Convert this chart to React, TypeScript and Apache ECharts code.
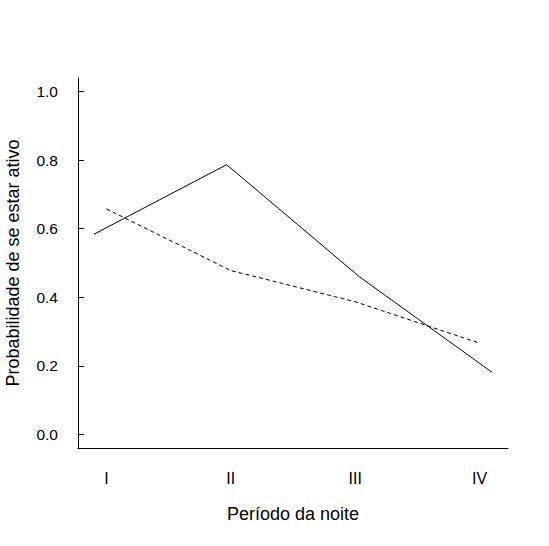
import React, { useEffect, useRef } from "react";
import * as echarts from "echarts";

const periods = ["I", "II", "III", "IV"];
const solidValues = [0.584, 0.787, 0.46, 0.181];
const dashedValues = [0.658, 0.478, 0.387, 0.266];
const yTicks = [0, 0.2, 0.4, 0.6, 0.8, 1.0];

// the solid series is drawn spread slightly (dodged) around the category centres
const solidSpread = 3.2 / 3;
const solidStart = 0.9;

const FONT = "'Liberation Sans', Arial, sans-serif";

export default function App() {
  const ref = useRef<HTMLDivElement>(null);
  useEffect(() => {
    if (!ref.current) return;
    const chart = echarts.init(ref.current, null, { renderer: "svg" });
    const solidData = solidValues.map((v, i) => [solidStart + i * solidSpread, v]);
    const dashedData = dashedValues.map((v, i) => [i + 1, v]);
    chart.setOption({
      animation: false,
      backgroundColor: "#fff",
      grid: {
        left: 78,
        right: 41,
        top: 78,
        bottom: 98,
        containLabel: false,
        outerBoundsMode: "none",
      },
      xAxis: {
        type: "value",
        min: 0.772,
        max: 4.228,
        axisLine: { show: true, onZero: false, lineStyle: { color: "#000", width: 1 } },
        axisTick: { show: false },
        splitLine: { show: false },
        axisLabel: {
          customValues: [1, 2, 3, 4],
          formatter: (v: number) => periods[Math.round(v) - 1] ?? "",
          color: "#000",
          fontSize: 16,
          fontFamily: FONT,
          margin: 22,
        },
        name: "Período da noite",
        nameLocation: "middle",
        nameGap: 57,
        nameTextStyle: { color: "#000", fontSize: 18, fontFamily: FONT },
      },
      yAxis: {
        type: "value",
        min: -0.04,
        max: 1.04,
        axisLine: { show: true, onZero: false, lineStyle: { color: "#000", width: 1 } },
        axisTick: {
          show: true,
          inside: true,
          length: 6,
          customValues: yTicks,
          lineStyle: { color: "#000", width: 1 },
        },
        splitLine: { show: false },
        axisLabel: {
          customValues: yTicks,
          formatter: (v: number) => v.toFixed(1),
          color: "#000",
          fontSize: 15.5,
          fontFamily: FONT,
          margin: 20,
        },
        name: "Probabilidade de se estar ativo",
        nameLocation: "middle",
        nameGap: 56,
        nameRotate: 90,
        nameTextStyle: { color: "#000", fontSize: 18, fontFamily: FONT },
      },
      series: [
        {
          type: "line",
          data: solidData,
          symbol: "none",
          lineStyle: { color: "#000", width: 1, type: "solid" },
        },
        {
          type: "line",
          data: dashedData,
          symbol: "none",
          lineStyle: { color: "#000", width: 1, type: [4, 3] },
        },
      ],
    });
    return () => chart.dispose();
  }, []);
  return (
    <div
      ref={ref}
      style={{ position: "absolute", left: 0, top: 0, width: 549, height: 546 }}
    />
  );
}
